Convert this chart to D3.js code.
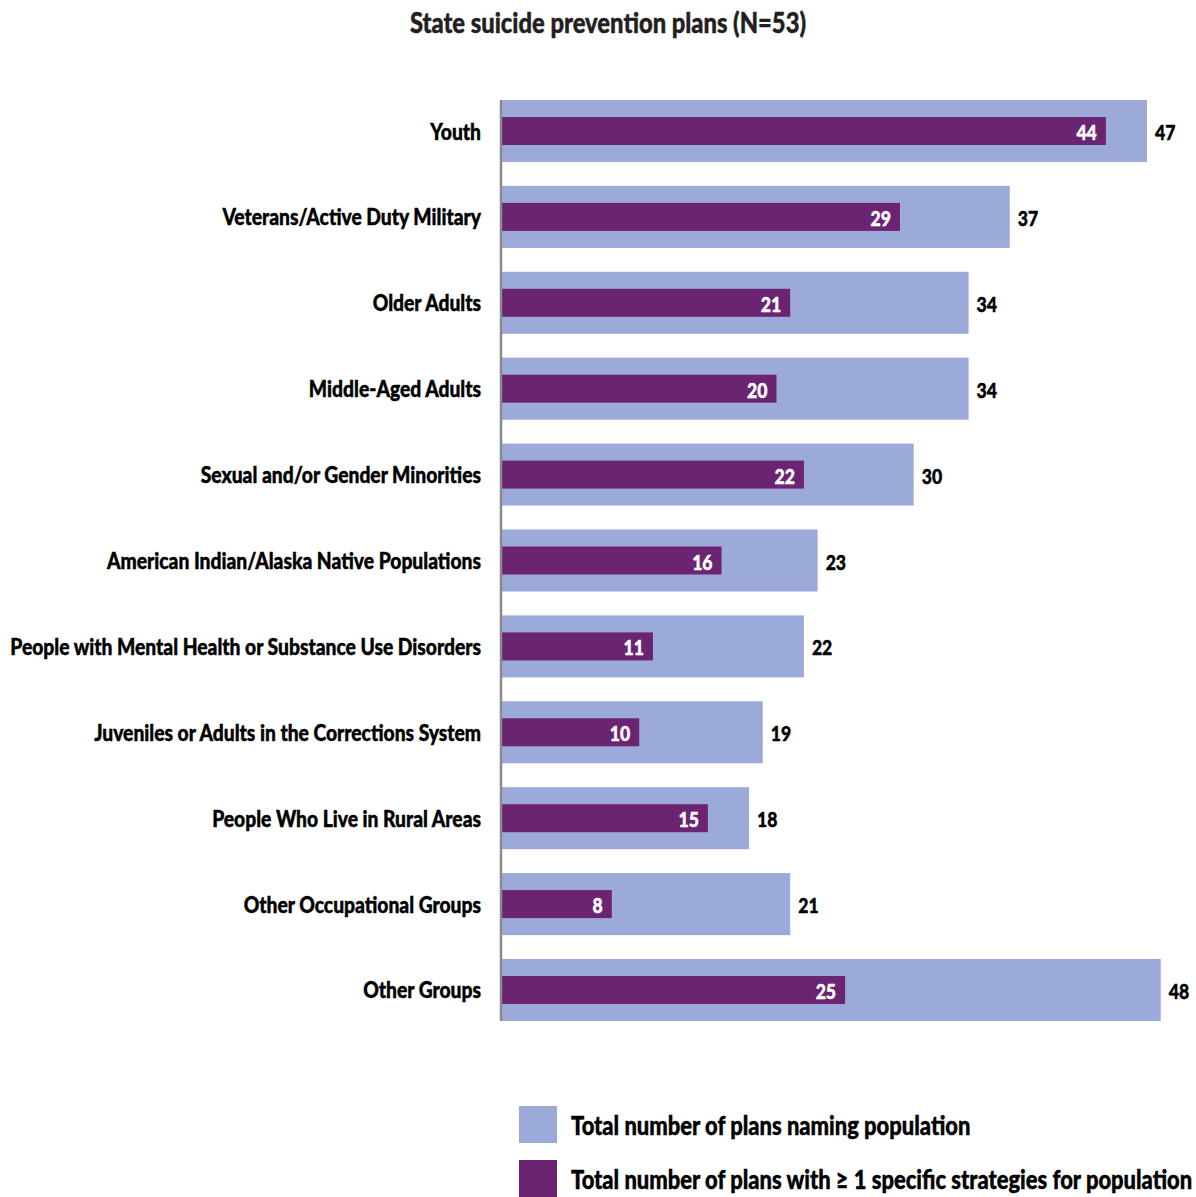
<!DOCTYPE html>
<html>
<head>
<meta charset="utf-8">
<script src="https://cdn.jsdelivr.net/npm/d3@7"></script>
<style>
  html, body { margin: 0; padding: 0; background: #fff; }
  svg text { font-family: Lato, "Open Sans", "DejaVu Sans", sans-serif; font-weight: 900; }
</style>
</head>
<body>
<svg id="chart" width="1196" height="1197"></svg>
<script>
// Populations named in state plans, top to bottom
const categories = [
  "Youth",
  "Veterans/Active Duty Military",
  "Older Adults",
  "Middle-Aged Adults",
  "Sexual and/or Gender Minorities",
  "American Indian/Alaska Native Populations",
  "People with Mental Health or Substance Use Disorders",
  "Juveniles or Adults in the Corrections System",
  "People Who Live in Rural Areas",
  "Other Occupational Groups",
  "Other Groups"
];
// Plans naming each population
const namingTotals = [47, 37, 34, 34, 30, 23, 22, 19, 18, 21, 48];
// Plans with at least one specific strategy for the population
const strategyTotals = [44, 29, 21, 20, 22, 16, 11, 10, 15, 8, 25];

const title = "State suicide prevention plans (N=53)";
const legendLabels = [
  "Total number of plans naming population",
  "Total number of plans with \u2265 1 specific strategies for population"
];

const colorTotal = "#9caad9";
const colorStrategy = "#6b2472";

const svg = d3.select("#chart");
const plotLeft = 502, plotTop = 100, plotBottom = 1021;
const labelSize = 23.5, valueSize = 21.5, titleSize = 29, legendSize = 26.8;

// Horizontal condensing factor so the longest label spans the left margin
const probe = svg.append("text").attr("font-size", labelSize)
  .text(d3.greatest(categories, c => c.length));
const condense = 471 / probe.node().getComputedTextLength();
probe.remove();

// Draws a condensed, slightly heavier text with its anchor point at (x, y)
function label(parent, x, y, str, opts) {
  const fill = opts.fill || "#000";
  const g = parent.append("g")
    .attr("transform", `translate(${x},${y}) scale(${condense},1)`);
  return g.append("text")
    .attr("text-anchor", opts.anchor || "start")
    .attr("font-size", opts.size)
    .attr("fill", fill)
    .attr("stroke", fill)
    .attr("stroke-width", 0.45)
    .text(str);
}

const x = d3.scaleLinear().domain([0, 47]).range([plotLeft, 1147]);
const y = d3.scaleBand().domain(categories).range([plotTop, plotBottom]).paddingInner(0.278).paddingOuter(0);
const barH = y.bandwidth();
const innerH = 28, innerOff = (barH - innerH) / 2;

label(svg, 608, 33, title, { anchor: "middle", size: titleSize, fill: "#231f20" });

const data = categories.map((c, i) => ({ c, total: namingTotals[i], strat: strategyTotals[i] }));
const rows = svg.append("g").selectAll("g").data(data).join("g");

rows.append("rect")
  .attr("x", x(0))
  .attr("y", d => y(d.c))
  .attr("width", d => x(d.total) - x(0))
  .attr("height", barH)
  .attr("fill", colorTotal);

rows.append("rect")
  .attr("x", x(0))
  .attr("y", d => y(d.c) + innerOff)
  .attr("width", d => x(d.strat) - x(0))
  .attr("height", innerH)
  .attr("fill", colorStrategy);

rows.each(function (d) {
  const g = d3.select(this);
  const cy = y(d.c) + barH / 2;
  label(g, 481, cy + 8.5, d.c, { anchor: "end", size: labelSize });
  label(g, x(d.total) + 8, cy + 9, d.total, { size: valueSize });
  label(g, x(d.strat) - 9, cy + 9, d.strat, { anchor: "end", size: valueSize, fill: "#fff" });
});

// Vertical baseline
svg.append("line")
  .attr("x1", 501).attr("x2", 501)
  .attr("y1", plotTop).attr("y2", plotBottom)
  .attr("stroke", "#8a8a8a")
  .attr("stroke-width", 2.5);

// Legend
const legend = svg.append("g").selectAll("g")
  .data(legendLabels)
  .join("g")
  .attr("transform", (d, i) => `translate(519, ${1106 + i * 54})`);
legend.append("rect")
  .attr("width", 38).attr("height", 37)
  .attr("fill", (d, i) => i === 0 ? colorTotal : colorStrategy);
legend.each(function (d) {
  label(d3.select(this), 52, 29, d, { size: legendSize });
});
</script>
</body>
</html>
